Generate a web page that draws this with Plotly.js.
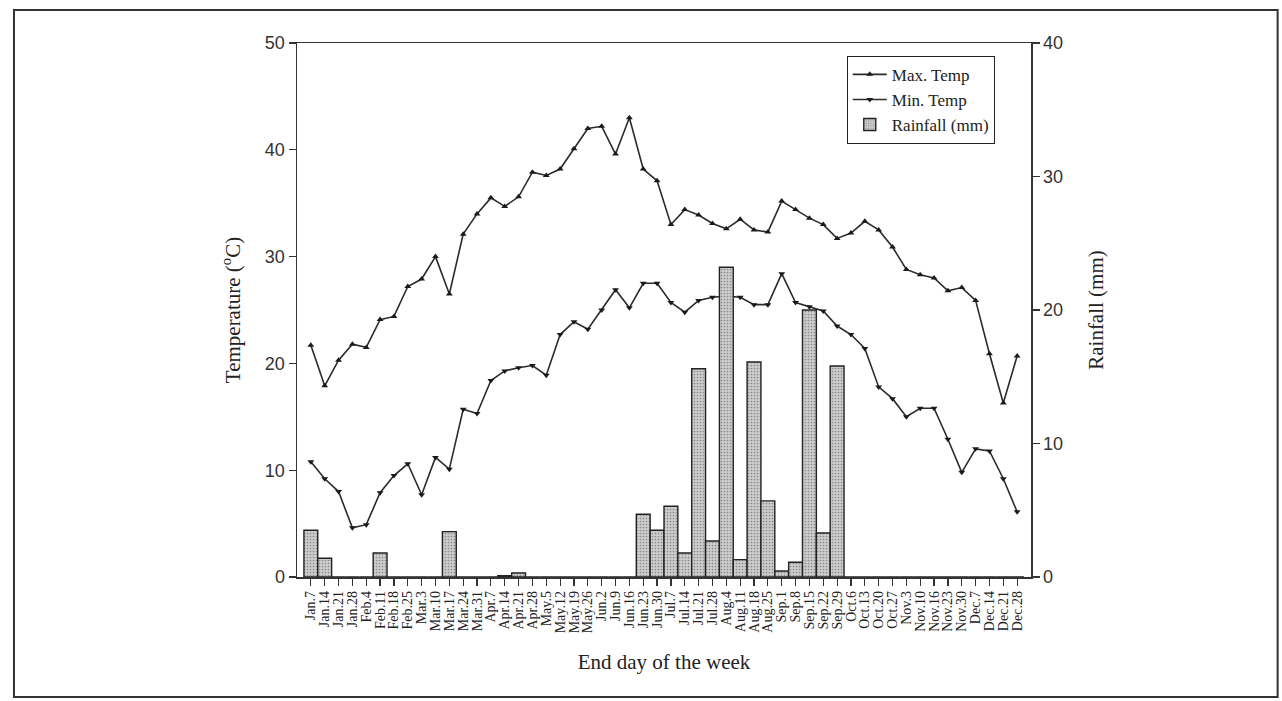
<!DOCTYPE html>
<html>
<head>
<meta charset="utf-8">
<script src="https://cdn.plot.ly/plotly-3.0.1.min.js"></script>
<style>
  html, body { margin: 0; padding: 0; background: #ffffff; }
  #chart { width: 1282px; height: 701px; }
</style>
</head>
<body>
<div id="chart"></div>
<script>
const weeks = ["Jan.7","Jan.14","Jan.21","Jan.28","Feb.4","Feb.11","Feb.18","Feb.25","Mar.3","Mar.10",
  "Mar.17","Mar.24","Mar.31","Apr.7","Apr.14","Apr.21","Apr.28","May.5","May.12","May.19",
  "May.26","Jun.2","Jun.9","Jun.16","Jun.23","Jun.30","Jul.7","Jul.14","Jul.21","Jul.28",
  "Aug.4","Aug.11","Aug.18","Aug.25","Sep.1","Sep.8","Sep.15","Sep.22","Sep.29","Oct.6",
  "Oct.13","Oct.20","Oct.27","Nov.3","Nov.10","Nov.16","Nov.23","Nov.30","Dec.7","Dec.14",
  "Dec.21","Dec.28"];

const maxTemp = [21.7,17.9,20.3,21.8,21.5,24.1,24.4,27.2,27.9,30.0,
  26.5,32.1,34.0,35.5,34.7,35.6,37.9,37.6,38.2,40.1,
  42.0,42.2,39.6,43.0,38.2,37.1,33.0,34.4,33.9,33.1,
  32.6,33.5,32.5,32.3,35.2,34.4,33.6,33.0,31.7,32.2,
  33.3,32.5,30.9,28.8,28.3,28.0,26.8,27.1,25.9,20.9,
  16.3,20.7];

const minTemp = [10.8,9.2,8.0,4.6,4.9,7.9,9.5,10.6,7.7,11.2,
  10.1,15.7,15.3,18.4,19.3,19.6,19.8,18.9,22.7,23.9,
  23.2,25.0,26.9,25.2,27.5,27.5,25.7,24.8,25.9,26.2,
  26.3,26.2,25.5,25.5,28.4,25.7,25.3,24.9,23.5,22.7,
  21.4,17.8,16.7,15.0,15.8,15.8,12.9,9.8,12.0,11.8,
  9.2,6.1];

const rainfall = [3.5,1.4,0,0,0,1.8,0,0,0,0,
  3.4,0,0,0,0.1,0.3,0,0,0,0,
  0,0,0,0,4.7,3.5,5.3,1.8,15.6,2.7,
  23.2,1.3,16.1,5.7,0.45,1.1,20.0,3.3,15.8,0,
  0,0,0,0,0,0,0,0,0,0,
  0,0];

const yTicks = [0,10,20,30,40,50];
const y2Ticks = [0,10,20,30,40];

const serif = "Liberation Serif, Times New Roman, serif";
const sans = "Liberation Sans, Arial, sans-serif";

const traces = [
  {
    type: "scatter", mode: "lines+markers", name: "Max. Temp",
    x: weeks, y: maxTemp, xaxis: "x", yaxis: "y",
    line: {color: "#2b2b2b", width: 1.6},
    marker: {symbol: "triangle-up", size: 6, color: "#1a1a1a"}
  },
  {
    type: "scatter", mode: "lines+markers", name: "Min. Temp",
    x: weeks, y: minTemp, xaxis: "x", yaxis: "y",
    line: {color: "#2b2b2b", width: 1.6},
    marker: {symbol: "triangle-down", size: 6, color: "#1a1a1a"}
  },
  {
    type: "bar", name: "Rainfall (mm)",
    x: weeks, y: rainfall, xaxis: "x", yaxis: "y2",
    marker: {
      color: "#c4c4c4",
      line: {color: "#222222", width: 1.4},
      pattern: {shape: ".", fgcolor: "#8a8a8a", bgcolor: "#cdcdcd", size: 3, solidity: 0.25}
    }
  }
];

const layout = {
  width: 1282, height: 701,
  paper_bgcolor: "#ffffff", plot_bgcolor: "#ffffff",
  margin: {l: 297, r: 251, t: 43, b: 124},
  showlegend: true,
  bargap: 0,
  legend: {
    x: 0.749, y: 0.976, xanchor: "left", yanchor: "top",
    bgcolor: "#ffffff", bordercolor: "#222222", borderwidth: 1,
    font: {family: serif, size: 17, color: "#222"},
    tracegroupgap: 0, itemwidth: 34
  },
  xaxis: {
    type: "category",
    range: [-1, 52],
    tickmode: "array", tickvals: weeks, ticktext: weeks,
    tickangle: -90,
    ticks: "outside", ticklen: 7, tickcolor: "#333", tickwidth: 1.2,
    tickfont: {family: serif, size: 14, color: "#222"},
    showline: true, linecolor: "#333", linewidth: 1.5, mirror: true,
    showgrid: false, zeroline: false,
    title: {text: "End day of the week", font: {family: serif, size: 21, color: "#222"}, standoff: 22}
  },
  yaxis: {
    range: [0, 50],
    tickmode: "array", tickvals: yTicks,
    ticks: "outside", ticklen: 7, tickcolor: "#333", tickwidth: 1.2,
    tickfont: {family: sans, size: 18, color: "#333"},
    showline: true, linecolor: "#333", linewidth: 1.5,
    showgrid: false, zeroline: false,
    title: {text: "Temperature (<sup>o</sup>C)", font: {family: serif, size: 21, color: "#222"}, standoff: 18}
  },
  yaxis2: {
    overlaying: "y", side: "right",
    range: [0, 40],
    tickmode: "array", tickvals: y2Ticks,
    ticks: "outside", ticklen: 7, tickcolor: "#333", tickwidth: 1.2,
    tickfont: {family: sans, size: 18, color: "#333"},
    showline: true, linecolor: "#333", linewidth: 1.5,
    showgrid: false, zeroline: false,
    title: {text: "Rainfall (mm)", font: {family: serif, size: 21, color: "#222"}, standoff: 26}
  },
  shapes: [
    {type: "rect", xref: "paper", yref: "paper",
     x0: -0.3856, x1: 1.336, y0: -0.2247, y1: 1.0618,
     line: {color: "#333333", width: 2}, fillcolor: "rgba(0,0,0,0)", layer: "below"}
  ]
};

Plotly.newPlot("chart", traces, layout, {displayModeBar: false, staticPlot: true});
</script>
</body>
</html>
